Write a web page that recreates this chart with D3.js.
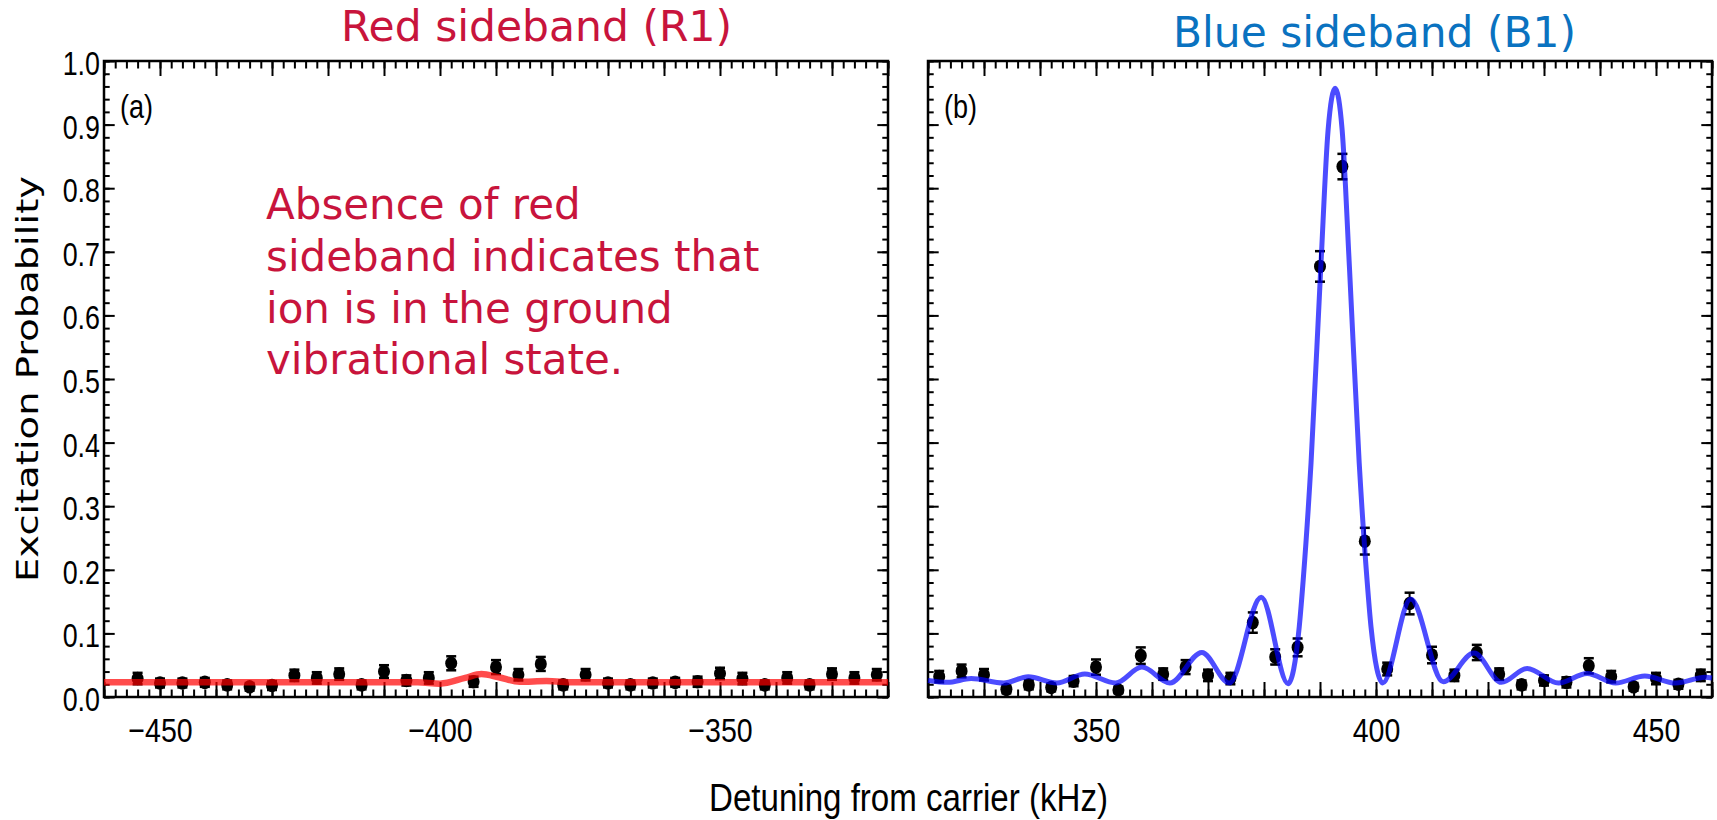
<!DOCTYPE html>
<html>
<head>
<meta charset="utf-8">
<script src="https://cdn.jsdelivr.net/npm/d3@7"></script>
<style>
  html, body { margin: 0; padding: 0; background: #fff; }
  svg { display: block; }
</style>
</head>
<body>
<svg id="chart" width="1717" height="820"></svg>
<script>
// ---- Red sideband (R1) scan: measured excitation probability vs detuning (kHz)
const redDetuning = [-454, -450, -446, -442, -438, -434, -430, -426, -422, -418, -414, -410,
  -406, -402, -398, -394, -390, -386, -382, -378, -374, -370, -366, -362, -358, -354,
  -350, -346, -342, -338, -334, -330, -326, -322];
const redExcitation = [0.029, 0.022, 0.022, 0.023, 0.019, 0.016, 0.018, 0.034, 0.030, 0.036, 0.019, 0.040,
  0.026, 0.030, 0.053, 0.024, 0.047, 0.035, 0.052, 0.019, 0.035, 0.022, 0.019, 0.022, 0.023, 0.024,
  0.037, 0.029, 0.019, 0.030, 0.019, 0.036, 0.030, 0.035];
const redError = [0.009, 0.007, 0.007, 0.007, 0.007, 0.006, 0.007, 0.009, 0.009, 0.009, 0.007, 0.010,
  0.008, 0.009, 0.011, 0.008, 0.011, 0.009, 0.011, 0.007, 0.009, 0.007, 0.007, 0.007, 0.007, 0.008,
  0.009, 0.009, 0.007, 0.009, 0.007, 0.009, 0.009, 0.009];

// Fitted red-sideband line shape (sampled)
const redFitDetuning = [-460, -404, -400, -395.5, -392.6, -389.5, -385.8, -381, -376, -320];
const redFitExcitation = [0.023, 0.023, 0.021, 0.030, 0.036, 0.031, 0.024, 0.025, 0.023, 0.023];

// ---- Blue sideband (B1) scan
const blueDetuning = [322, 326, 330, 334, 338, 342, 346, 350, 354, 358, 362, 366, 370, 374,
  378, 382, 386, 390, 394, 398, 402, 406, 410, 414, 418, 422, 426, 430, 434, 438, 442, 446,
  450, 454, 458];
const blueExcitation = [0.032, 0.041, 0.035, 0.012, 0.019, 0.015, 0.025, 0.047, 0.011, 0.065, 0.036,
  0.047, 0.034, 0.029, 0.117, 0.063, 0.078, 0.677, 0.834, 0.245, 0.044, 0.147, 0.066, 0.034,
  0.070, 0.036, 0.019, 0.026, 0.023, 0.049, 0.032, 0.016, 0.029, 0.020, 0.034];
const blueError = [0.009, 0.010, 0.009, 0.006, 0.007, 0.006, 0.008, 0.012, 0.005, 0.013, 0.009,
  0.011, 0.009, 0.009, 0.016, 0.012, 0.014, 0.024, 0.020, 0.021, 0.010, 0.017, 0.013, 0.009,
  0.012, 0.009, 0.007, 0.008, 0.008, 0.012, 0.009, 0.006, 0.009, 0.007, 0.009];

// Fitted blue-sideband line shape (sampled)
const blueFitDetuning = [320, 323.5, 327.7, 333.5, 337.9, 343.0, 348.0, 353.5, 358.2, 363.2, 368.9,
  373.8, 379.5, 384.3, 386.3, 387.0, 388.4, 390.15, 391.45, 392.7, 393.95, 395.25, 397.0, 398.4,
  399.1, 401.2, 406.2, 412.0, 417.5, 422.4, 427.0, 432.6, 437.7, 442.8, 448.0, 453.5, 458.8, 460];
const blueFitExcitation = [0.026, 0.023, 0.029, 0.022, 0.032, 0.022, 0.036, 0.022, 0.047, 0.022, 0.070,
  0.022, 0.157, 0.021, 0.111, 0.184, 0.368, 0.677, 0.892, 0.957, 0.892, 0.677, 0.368, 0.184,
  0.111, 0.022, 0.154, 0.024, 0.069, 0.023, 0.045, 0.022, 0.037, 0.022, 0.033, 0.022, 0.031, 0.030];

// ---- Tick labels
const redTickLabels = [-450, -400, -350];
const blueTickLabels = [350, 400, 450];
const yTickLabels = [0.0, 0.1, 0.2, 0.3, 0.4, 0.5, 0.6, 0.7, 0.8, 0.9, 1.0];

// ---- Layout
const svg = d3.select("#chart");
const plotTop = 61, plotBottom = 697;
const y = d3.scaleLinear().domain([0, 1]).range([plotBottom, plotTop]);
const xRed = d3.scaleLinear().domain([-460, -320]).range([104, 888]);
const xBlue = d3.scaleLinear().domain([320, 460]).range([928, 1712]);

const condensedFont = "'Liberation Sans', Arial, sans-serif";
const textFont = "'DejaVu Sans', Verdana, sans-serif";
const redText = "#c8143c";
const blueText = "#0a72c0";

function styleAxis(g) {
  g.select(".domain").remove();
  g.selectAll(".tick line").attr("stroke", "#000").attr("stroke-width", 2);
  g.selectAll(".tick text").attr("fill", "#000");
}

function drawPanel(o) {
  const x = o.x;
  const [x0, x1] = x.range();
  const [d0, d1] = x.domain();
  const g = svg.append("g");
  const minorX = d3.range(d0, d1 + 0.001, 2);
  const majorX = d3.range(d0, d1 + 0.001, 10);
  const minorY = d3.range(0, 1.0001, 0.02);
  const fmtX = d3.format("d");

  // bottom axis
  g.append("g").attr("transform", `translate(0,${plotBottom})`)
    .call(d3.axisBottom(x).tickValues(minorX).tickSizeInner(-7.5).tickSizeOuter(0).tickFormat(""))
    .call(styleAxis);
  const bx = g.append("g").attr("transform", `translate(0,${plotBottom})`)
    .call(d3.axisBottom(x).tickValues(majorX).tickSizeInner(-15).tickSizeOuter(0)
      .tickFormat(d => o.labels.includes(d) ? fmtX(d) : ""))
    .call(styleAxis);
  bx.selectAll(".tick text")
    .attr("font-family", condensedFont).attr("font-size", 34)
    .attr("y", 44.7).attr("dy", 0)
    .attr("transform", "scale(0.84,1)");

  // top axis
  g.append("g").attr("transform", `translate(0,${plotTop})`)
    .call(d3.axisTop(x).tickValues(minorX).tickSizeInner(-7.5).tickSizeOuter(0).tickFormat(""))
    .call(styleAxis);
  g.append("g").attr("transform", `translate(0,${plotTop})`)
    .call(d3.axisTop(x).tickValues(majorX).tickSizeInner(-15).tickSizeOuter(0).tickFormat(""))
    .call(styleAxis);

  // left axis
  g.append("g").attr("transform", `translate(${x0},0)`)
    .call(d3.axisLeft(y).tickValues(minorY).tickSizeInner(-5.7).tickSizeOuter(0).tickFormat(""))
    .call(styleAxis);
  const ly = g.append("g").attr("transform", `translate(${x0},0)`)
    .call(d3.axisLeft(y).tickValues(yTickLabels).tickSizeInner(-10.7).tickSizeOuter(0)
      .tickFormat(o.yLabels ? d3.format(".1f") : ""))
    .call(styleAxis);
  ly.selectAll(".tick text")
    .attr("font-family", condensedFont).attr("font-size", 34)
    .attr("x", -4 / 0.79).attr("dy", 13.5)
    .attr("transform", "scale(0.79,1)");

  // right axis
  g.append("g").attr("transform", `translate(${x1},0)`)
    .call(d3.axisRight(y).tickValues(minorY).tickSizeInner(-5.7).tickSizeOuter(0).tickFormat(""))
    .call(styleAxis);
  g.append("g").attr("transform", `translate(${x1},0)`)
    .call(d3.axisRight(y).tickValues(yTickLabels).tickSizeInner(-10.7).tickSizeOuter(0).tickFormat(""))
    .call(styleAxis);

  // frame
  g.append("rect").attr("x", x0).attr("y", plotTop)
    .attr("width", x1 - x0).attr("height", plotBottom - plotTop)
    .attr("fill", "none").attr("stroke", "#000").attr("stroke-width", 2.5);

  // measured points with error bars
  const pts = o.det.map((d, i) => ({ d, v: o.val[i], e: o.err[i] }));
  const pg = g.append("g");
  const eb = pg.selectAll("g.pt").data(pts).join("g").attr("class", "pt");
  eb.append("line")
    .attr("x1", p => x(p.d)).attr("x2", p => x(p.d))
    .attr("y1", p => y(p.v - p.e)).attr("y2", p => y(p.v + p.e))
    .attr("stroke", "#000").attr("stroke-width", 2);
  eb.append("line")
    .attr("x1", p => x(p.d) - 5).attr("x2", p => x(p.d) + 5)
    .attr("y1", p => y(p.v + p.e)).attr("y2", p => y(p.v + p.e))
    .attr("stroke", "#000").attr("stroke-width", 2.5);
  eb.append("line")
    .attr("x1", p => x(p.d) - 5).attr("x2", p => x(p.d) + 5)
    .attr("y1", p => y(p.v - p.e)).attr("y2", p => y(p.v - p.e))
    .attr("stroke", "#000").attr("stroke-width", 2.5);
  eb.append("ellipse")
    .attr("cx", p => x(p.d)).attr("cy", p => y(p.v))
    .attr("rx", 6).attr("ry", 6.8).attr("fill", "#000");

  // fitted line shape, drawn translucent over the points
  const fit = o.fitDet.map((d, i) => [d, o.fitVal[i]]);
  g.append("path").datum(fit)
    .attr("d", d3.line().x(p => x(p[0])).y(p => y(p[1])).curve(d3.curveMonotoneX))
    .attr("fill", "none").attr("stroke", o.color).attr("stroke-opacity", 0.7)
    .attr("stroke-width", o.width).attr("stroke-linejoin", "round");

  // panel tag
  g.append("text")
    .attr("transform", `translate(${x0 + 16},118) scale(0.82,1)`)
    .attr("font-family", condensedFont).attr("font-size", 33).attr("fill", "#000")
    .text(o.tag);
}

drawPanel({ x: xRed, det: redDetuning, val: redExcitation, err: redError,
  fitDet: redFitDetuning, fitVal: redFitExcitation, color: "#ff0000", width: 6.5,
  labels: redTickLabels, yLabels: true, tag: "(a)" });
drawPanel({ x: xBlue, det: blueDetuning, val: blueExcitation, err: blueError,
  fitDet: blueFitDetuning, fitVal: blueFitExcitation, color: "#0000ff", width: 5,
  labels: blueTickLabels, yLabels: false, tag: "(b)" });

// panel titles
svg.append("text").attr("x", 341).attr("y", 40.5)
  .attr("font-family", textFont).attr("font-size", 42).attr("fill", redText)
  .attr("textLength", 391).attr("lengthAdjust", "spacingAndGlyphs")
  .text("Red sideband (R1)");
svg.append("text").attr("x", 1173).attr("y", 47)
  .attr("font-family", textFont).attr("font-size", 42).attr("fill", blueText)
  .attr("textLength", 403).attr("lengthAdjust", "spacingAndGlyphs")
  .text("Blue sideband (B1)");

// annotation in the red-sideband panel
const note = ["Absence of red", "sideband indicates that", "ion is in the ground", "vibrational state."];
svg.append("g").selectAll("text").data(note).join("text")
  .attr("x", 266).attr("y", (d, i) => 219 + i * 51.8)
  .attr("font-family", textFont).attr("font-size", 42).attr("fill", redText)
  .text(d => d);

// axis titles
svg.append("text")
  .attr("transform", "translate(38,379) rotate(-90)")
  .attr("text-anchor", "middle")
  .attr("font-family", textFont).attr("font-size", 31).attr("fill", "#000")
  .attr("textLength", 406).attr("lengthAdjust", "spacingAndGlyphs")
  .text("Excitation Probability");
svg.append("text")
  .attr("x", 709).attr("y", 811)
  .attr("font-family", condensedFont).attr("font-size", 39).attr("fill", "#000")
  .attr("textLength", 399).attr("lengthAdjust", "spacingAndGlyphs")
  .text("Detuning from carrier (kHz)");
</script>
</body>
</html>
